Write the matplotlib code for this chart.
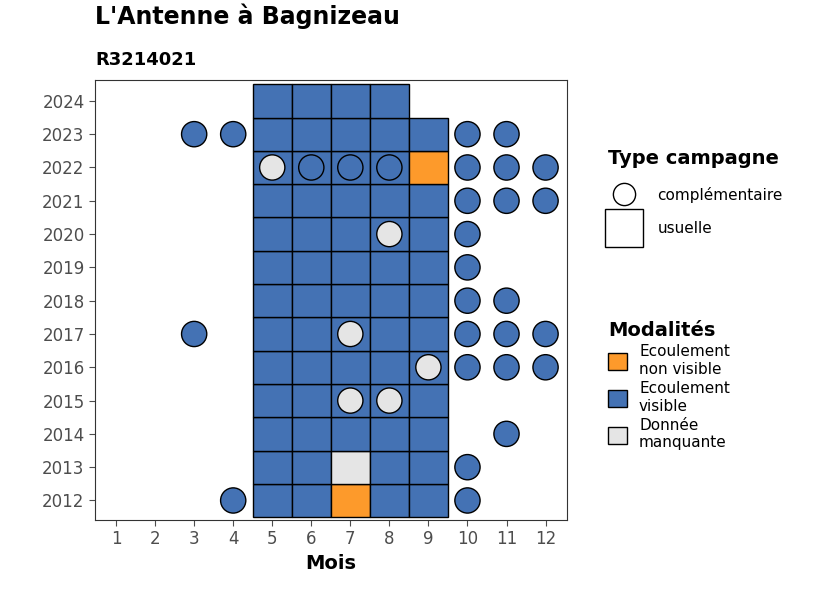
import matplotlib.pyplot as plt
import matplotlib.patches as mpatches
from matplotlib.lines import Line2D

COLORS = {"nv": "#FD9A2B", "v": "#4472B4", "m": "#E5E5E5"}

# usual campaigns (tiles): (year, month, modality)
years = list(range(2012, 2025))
tiles = []
for y in years:
    for m in range(5, 10):
        if y == 2024 and m == 9:
            continue
        mod = "v"
        if (y, m) in [(2022, 9), (2012, 7)]:
            mod = "nv"
        if (y, m) == (2013, 7):
            mod = "m"
        tiles.append((y, m, mod))

# complementary campaigns (circles)
circles = [
    (2023, 3, "v"), (2023, 4, "v"), (2023, 10, "v"), (2023, 11, "v"),
    (2022, 5, "m"), (2022, 6, "v"), (2022, 7, "v"), (2022, 8, "v"),
    (2022, 10, "v"), (2022, 11, "v"), (2022, 12, "v"),
    (2021, 10, "v"), (2021, 11, "v"), (2021, 12, "v"),
    (2020, 8, "m"), (2020, 10, "v"),
    (2019, 10, "v"),
    (2018, 10, "v"), (2018, 11, "v"),
    (2017, 3, "v"), (2017, 7, "m"), (2017, 10, "v"), (2017, 11, "v"), (2017, 12, "v"),
    (2016, 9, "m"), (2016, 10, "v"), (2016, 11, "v"), (2016, 12, "v"),
    (2015, 7, "m"), (2015, 8, "m"),
    (2014, 11, "v"),
    (2013, 10, "v"),
    (2012, 4, "v"), (2012, 10, "v"),
]

fig = plt.figure(figsize=(8.26, 5.9), dpi=100)
ax = fig.add_axes([0.115, 0.119, 0.571, 0.745])

for y, m, mod in tiles:
    ax.add_patch(mpatches.Rectangle((m - 0.5, y - 0.5), 1, 1, facecolor=COLORS[mod],
                                    edgecolor="black", lw=1))
ax.scatter([c[1] for c in circles], [c[0] for c in circles], s=330,
           c=[COLORS[c[2]] for c in circles], edgecolors="black", linewidths=1, zorder=3)

ax.set_xlim(0.46, 12.54)
ax.set_ylim(2011.42, 2024.62)
ax.set_xticks(range(1, 13))
ax.set_yticks(years)
ax.tick_params(labelsize=12, colors="#4D4D4D", length=4)
for s in ax.spines.values():
    s.set_color("#333333")
ax.set_xlabel("Mois", fontsize=14, fontweight="bold")

fig.text(0.115, 0.96, "L'Antenne à Bagnizeau", fontsize=17, fontweight="bold")
fig.text(0.115, 0.89, "R3214021", fontsize=13, fontweight="bold")

# legends
leg1 = fig.legend(handles=[
    Line2D([], [], marker="o", ls="", markersize=16, markerfacecolor="white", markeredgecolor="black"),
    Line2D([], [], marker="s", ls="", markersize=28, markerfacecolor="white", markeredgecolor="black")],
    labels=["complémentaire", "usuelle"], title="Type campagne", loc="upper left",
    bbox_to_anchor=(0.72, 0.77), frameon=False, fontsize=11, labelspacing=1.2,
    handletextpad=1.2, title_fontproperties={"weight": "bold", "size": 14})
leg1._legend_box.align = "left"
leg2 = fig.legend(handles=[mpatches.Patch(facecolor=COLORS[k], edgecolor="black") for k in ["nv", "v", "m"]],
    labels=["Ecoulement\nnon visible", "Ecoulement\nvisible", "Donnée\nmanquante"],
    title="Modalités", loc="upper left", bbox_to_anchor=(0.72, 0.48), frameon=False,
    fontsize=11, labelspacing=0.3, handlelength=1.2, handleheight=1.3,
    title_fontproperties={"weight": "bold", "size": 14})
leg2._legend_box.align = "left"

fig.savefig("out.png")
